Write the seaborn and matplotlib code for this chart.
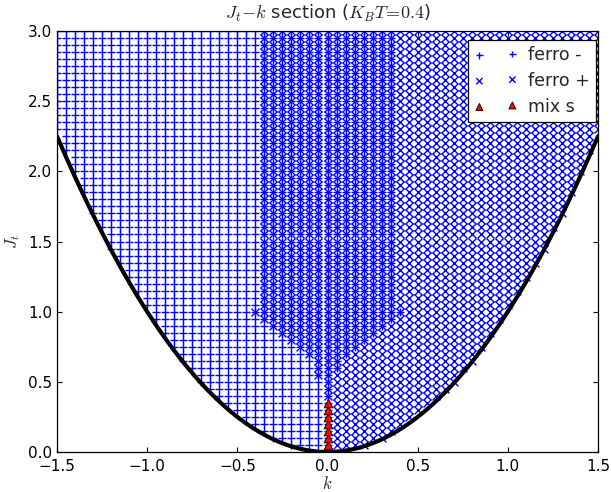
import numpy as np
import pandas as pd
import matplotlib
matplotlib.use("Agg")
import matplotlib.pyplot as plt
import seaborn as sns

# sampling grid of the phase diagram
k_values = np.linspace(-1.5, 1.5, 61)
J_values = np.linspace(0.0, 3.0, 61)

# edges of the coexistence region, per J row (row value applies up to that J)
edge_J = [0.35, 0.40, 0.45, 0.50, 0.55, 0.60, 0.65, 0.70, 0.75, 0.80, 0.85, 0.90, 0.95, 1.00, 3.00]
minus_edge = [0.00, 0.00, 0.00, 0.00, 0.00, 0.05, 0.05, 0.10, 0.15, 0.20, 0.25, 0.30, 0.35, 0.40, 0.35]
plus_edge = [0.05, 0.00, 0.00, 0.00, -0.05, -0.05, -0.05, -0.10, -0.15, -0.20, -0.25, -0.30, -0.35, -0.40, -0.35]

# mixed state points
mix_k = [0.0, 0.0, 0.0, 0.0, 0.0, 0.0, 0.0]
mix_J = [0.05, 0.10, 0.15, 0.20, 0.25, 0.30, 0.35]

# boundary curve J = k^2
curve_k = np.linspace(-1.5, 1.5, 301)
curve_J = curve_k ** 2

rows = []
for J in J_values:
    i = np.searchsorted(edge_J, J - 1e-9)
    for k in k_values:
        if J <= k ** 2 + 1e-9:
            continue
        if k <= minus_edge[i] + 1e-9:
            rows.append((k, J, "ferro -"))
        if k >= plus_edge[i] - 1e-9:
            rows.append((k, J, "ferro +"))
df = pd.DataFrame(rows, columns=["k", "J", "phase"])

sns.set_style("ticks", {"xtick.direction": "in", "ytick.direction": "in"})
plt.rcParams["font.family"] = ["DejaVu Sans"]
plt.rcParams["mathtext.fontset"] = "cm"
plt.rcParams["axes.linewidth"] = 0.9
plt.rcParams["axes.edgecolor"] = "black"

fig = plt.figure(figsize=(6.11, 4.92), dpi=100)
ax = fig.add_axes([57 / 611, 1 - 452 / 492, 541 / 611, 421 / 492])

sns.scatterplot(data=df[df.phase == "ferro -"], x="k", y="J", marker="+",
                color="blue", s=32, linewidth=1.0, label="ferro -", ax=ax, zorder=1)
sns.scatterplot(data=df[df.phase == "ferro +"], x="k", y="J", marker="x",
                color="blue", s=32, linewidth=1.0, label="ferro +", ax=ax, zorder=1)
sns.lineplot(x=curve_k, y=curve_J, color="black", linewidth=3.0, ax=ax,
             sort=False, zorder=2)
sns.scatterplot(x=mix_k, y=mix_J, marker="^", color="red", edgecolor="black",
                s=40, linewidth=0.6, label="mix s", ax=ax, zorder=3)

ax.set_xlim(-1.5, 1.5)
ax.set_ylim(0, 3)
ax.set_xticks(np.arange(-1.5, 1.51, 0.5))
ax.set_yticks(np.arange(0, 3.01, 0.5))
ax.tick_params(axis="both", which="major", labelsize=11, length=3.5, width=0.8,
               top=True, right=True, direction="in", colors="black")
ax.tick_params(axis="x", pad=5)
ax.set_xlabel("$k$", fontsize=12, labelpad=1)
ax.set_ylabel("$J_t$", fontsize=12, labelpad=4)
ax.set_title(r"$J_t\!-\!k$ section ($K_BT\!=\!0.4$)", fontsize=13, pad=9)

leg = ax.legend(loc="upper right", bbox_to_anchor=(0.996, 0.979), borderaxespad=0,
                scatterpoints=2, fancybox=False, framealpha=1, edgecolor="black",
                fontsize=12.5, markerscale=0.8, handletextpad=0.6, labelspacing=0.45,
                handlelength=2.5, borderpad=0.35)
leg.get_frame().set_linewidth(0.9)

fig.savefig("out.png", dpi=100)
